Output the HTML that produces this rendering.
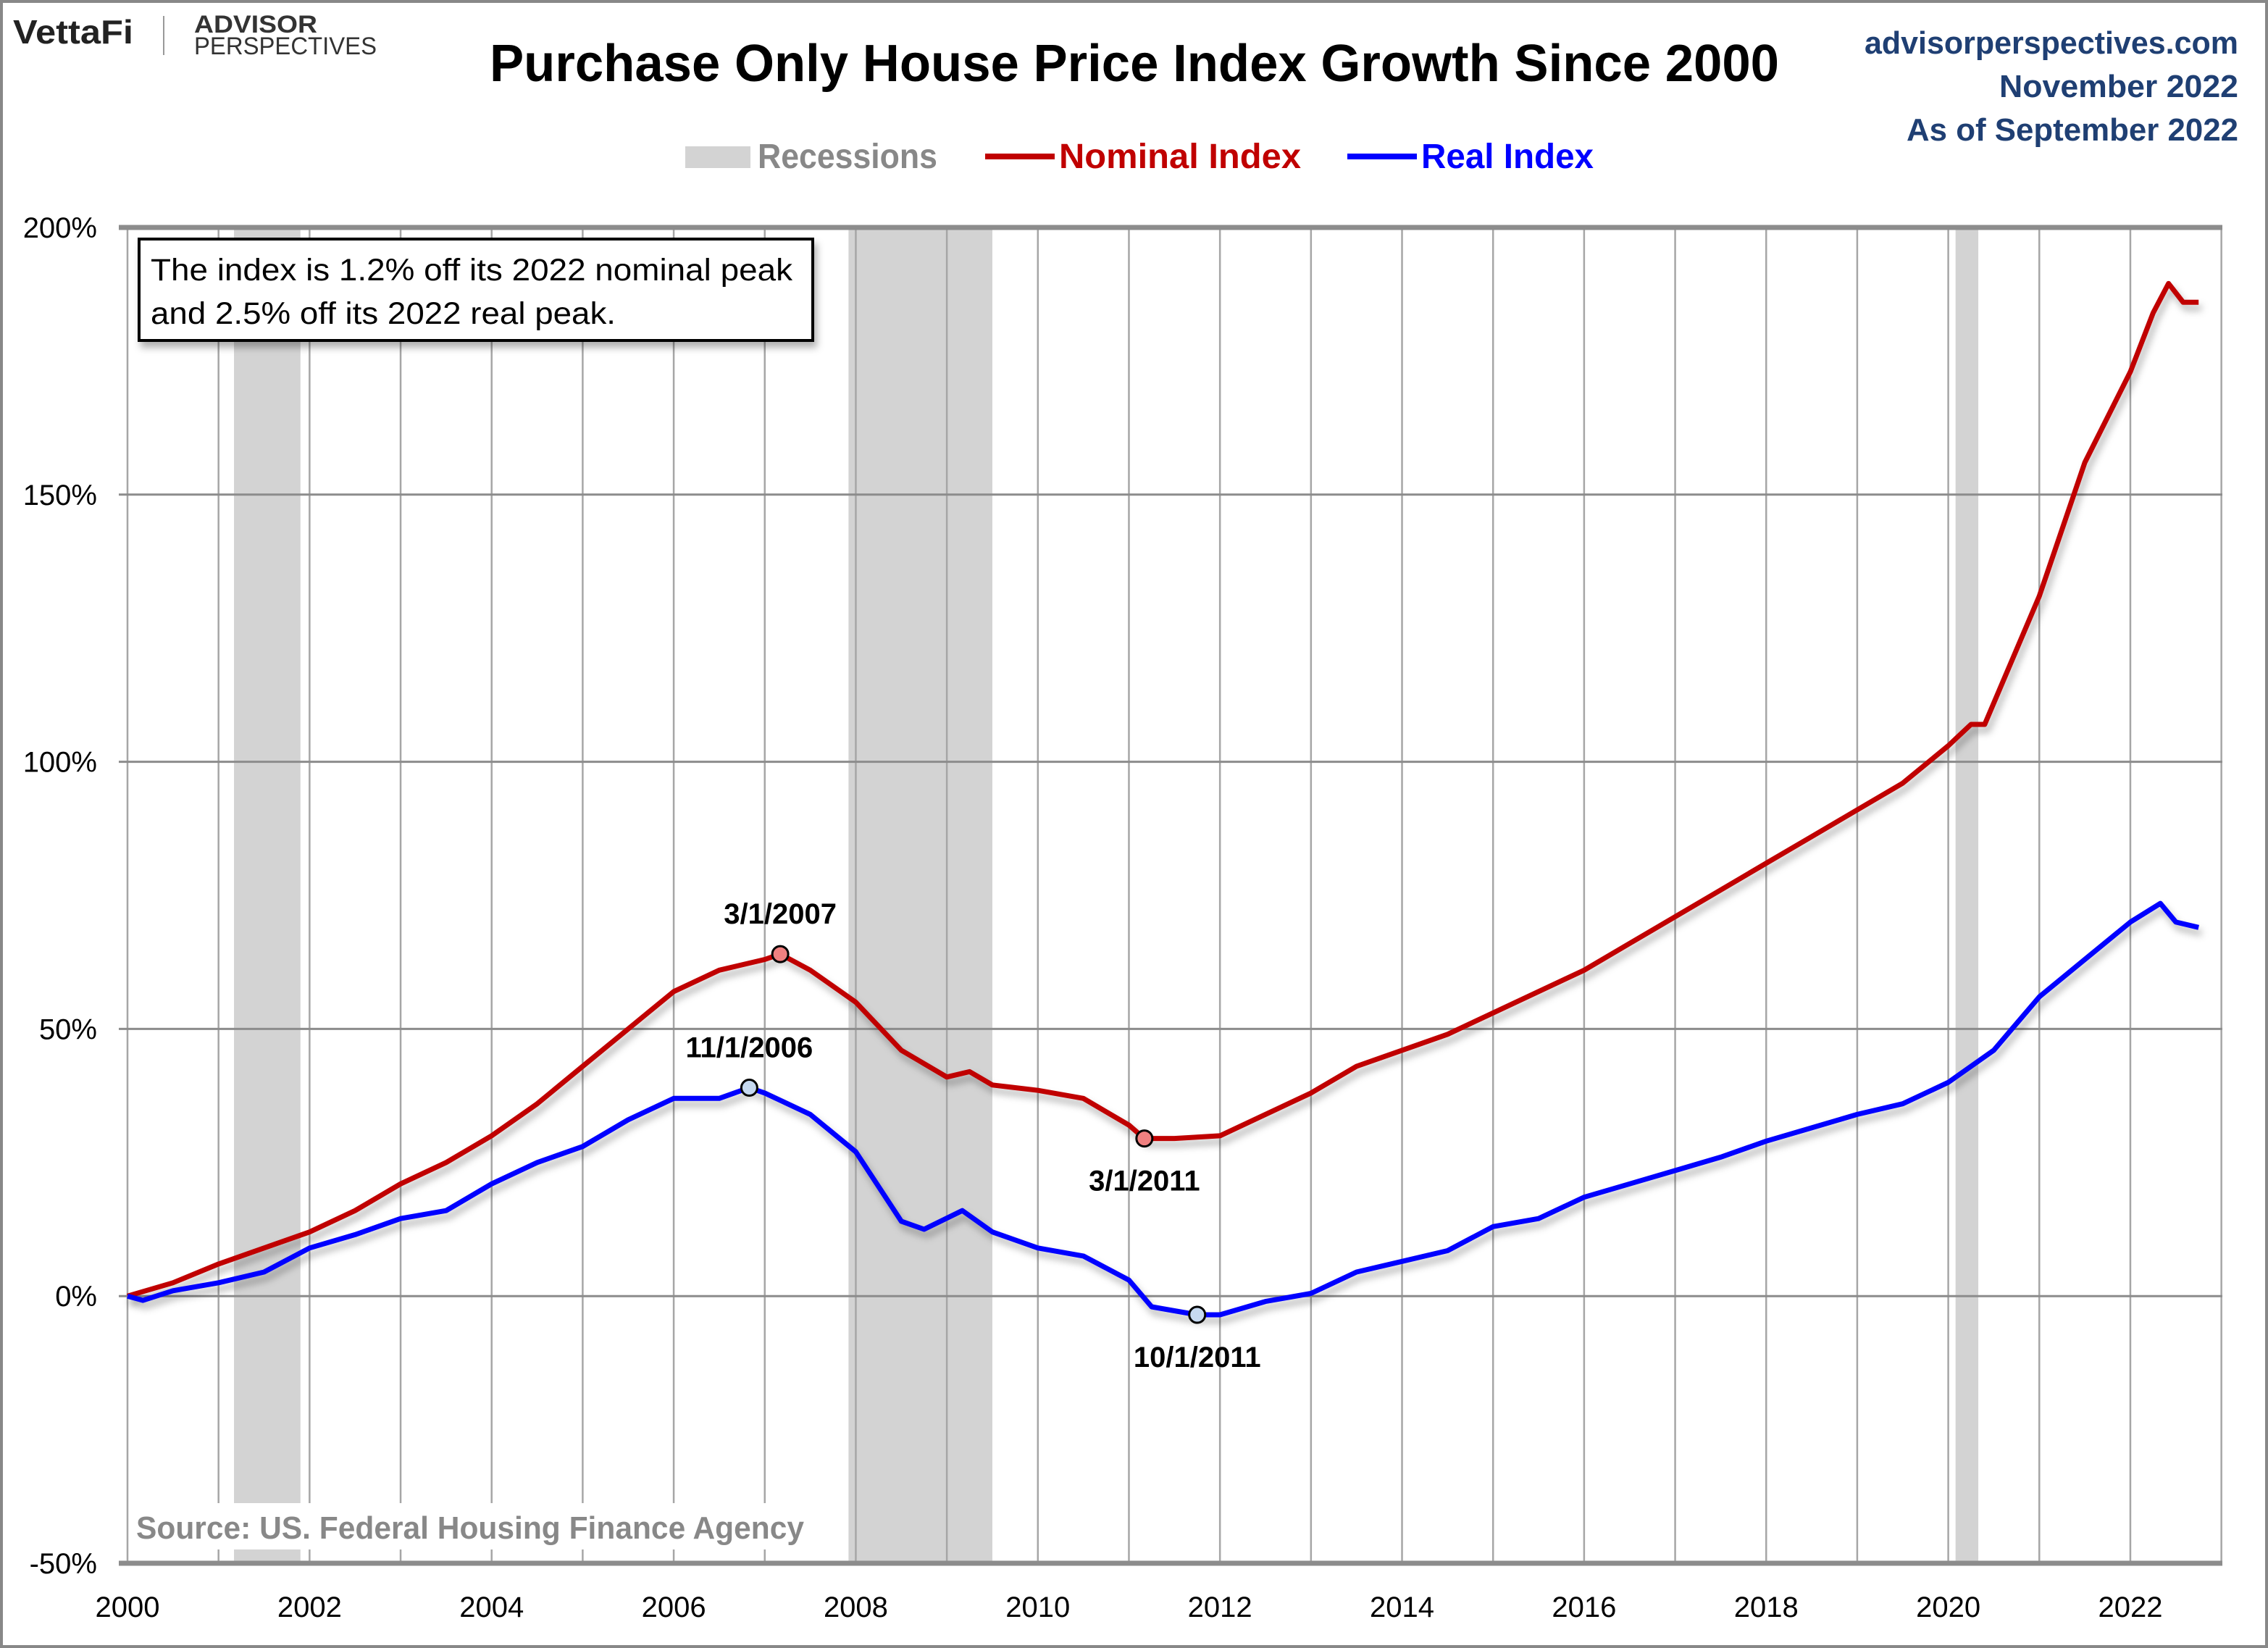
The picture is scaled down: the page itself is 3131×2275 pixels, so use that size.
<!DOCTYPE html>
<html><head><meta charset="utf-8"><style>
html,body{margin:0;padding:0;background:#fff}
svg{display:block;font-family:"Liberation Sans",sans-serif}
</style></head><body>
<svg id="chart" width="3131" height="2275" viewBox="0 0 3131 2275" xmlns="http://www.w3.org/2000/svg">
<defs><filter id="sh" x="-5%" y="-5%" width="110%" height="120%"><feDropShadow dx="4" dy="8" stdDeviation="5" flood-color="#000" flood-opacity="0.3"/></filter></defs>
<rect x="2" y="2" width="3127" height="2271" fill="#fff" stroke="#888" stroke-width="4"/>
<g>
<text x="18" y="60" font-size="46" font-weight="bold" fill="#222" textLength="166" lengthAdjust="spacingAndGlyphs">VettaFi</text>
<line x1="226" y1="22" x2="226" y2="76" stroke="#999" stroke-width="2"/>
<text x="268" y="45" font-size="34" font-weight="bold" fill="#333" textLength="170" lengthAdjust="spacingAndGlyphs">ADVISOR</text>
<text x="268" y="75" font-size="34" fill="#333" textLength="252" lengthAdjust="spacingAndGlyphs">PERSPECTIVES</text>
</g>
<text x="1566" y="112" text-anchor="middle" font-size="72" font-weight="bold" fill="#000" textLength="1780" lengthAdjust="spacingAndGlyphs">Purchase Only House Price Index Growth Since 2000</text>
<g font-size="44" font-weight="bold" fill="#1f3f73" text-anchor="end">
<text x="3090" y="74" textLength="516" lengthAdjust="spacingAndGlyphs">advisorperspectives.com</text>
<text x="3090" y="134" textLength="330" lengthAdjust="spacingAndGlyphs">November 2022</text>
<text x="3090" y="194" textLength="458" lengthAdjust="spacingAndGlyphs">As of September 2022</text>
</g>
<g font-size="48" font-weight="bold">
<rect x="946" y="202" width="90" height="30" fill="#d3d3d3"/>
<text x="1046" y="232" fill="#888" textLength="248" lengthAdjust="spacingAndGlyphs">Recessions</text>
<line x1="1360" y1="216" x2="1456" y2="216" stroke="#c00000" stroke-width="8"/>
<text x="1462" y="232" fill="#c00000" textLength="334" lengthAdjust="spacingAndGlyphs">Nominal Index</text>
<line x1="1860" y1="216" x2="1956" y2="216" stroke="#0000ff" stroke-width="8"/>
<text x="1962" y="232" fill="#0000ff" textLength="238" lengthAdjust="spacingAndGlyphs">Real Index</text>
</g>
<g id="plot"></g>
</svg>
<script>
const recStart=[2001.17,2007.92,2020.08];
const recEnd=[2001.9,2009.5,2020.33];
const yTicks=[-50,0,50,100,150,200];
const xTicks=[2000,2002,2004,2006,2008,2010,2012,2014,2016,2018,2020,2022];
const nomX=[2000,2000.5,2001,2001.5,2002,2002.5,2003,2003.5,2004,2004.5,2005,2005.5,2006,2006.5,2007,2007.17,2007.5,2008,2008.5,2009,2009.25,2009.5,2010,2010.5,2011,2011.17,2011.5,2012,2012.5,2013,2013.5,2014,2014.5,2015,2015.5,2016,2016.5,2017,2017.5,2018,2018.5,2019,2019.5,2020,2020.25,2020.4,2020.6,2021,2021.5,2022,2022.25,2022.42,2022.58,2022.75];
const nomY=[0,2.5,6,9,12,16,21,25,30,36,43,50,57,61,63,64,61,55,46,41,42,39.5,38.5,37,32,29.5,29.5,30,34,38,43,46,49,53,57,61,66,71,76,81,86,91,96,103,107,107,115,131,156,173,184,189.5,186,186];
const realX=[2000,2000.17,2000.5,2001,2001.5,2002,2002.5,2003,2003.5,2004,2004.5,2005,2005.5,2006,2006.5,2006.83,2007,2007.5,2008,2008.5,2008.75,2009.17,2009.5,2010,2010.5,2011,2011.25,2011.75,2012,2012.5,2013,2013.5,2014,2014.5,2015,2015.5,2016,2016.5,2017,2017.5,2018,2018.5,2019,2019.5,2020,2020.5,2021,2021.5,2022,2022.33,2022.5,2022.75];
const realY=[0,-0.8,1,2.5,4.5,9,11.5,14.5,16,21,25,28,33,37,37,39,38,34,27,14,12.5,16,12,9,7.5,3,-2,-3.5,-3.5,-1,0.5,4.5,6.5,8.5,13,14.5,18.5,21,23.5,26,29,31.5,34,36,40,46,56,63,70,73.5,70,69];
const markX=[2007.17,2011.17,2006.83,2011.75];
const markY=[64,29.5,39,-3.5];
const markLabel=["3/1/2007","3/1/2011","11/1/2006","10/1/2011"];

const L=176,R=3068,T=314,B=2158,X0=2000,XPY=125.68;
const sx=v=>L+(v-X0)*XPY;
const sy=v=>T+(200-v)*(B-T)/250;
const NS="http://www.w3.org/2000/svg";
const g=document.getElementById('plot');
function el(t,a,p){const e=document.createElementNS(NS,t);for(const k in a)e.setAttribute(k,a[k]);(p||g).appendChild(e);return e;}
for(let i=0;i<recStart.length;i++){
 const r=el('rect',{x:sx(recStart[i]),y:T,width:sx(recEnd[i])-sx(recStart[i]),height:B-T,fill:'#d3d3d3'});
 
 
}
for(let y=2000;y<=2023;y++){
 const l=el('line',{x1:sx(y),x2:sx(y),y1:T,y2:B,stroke:'#a6a6a6','stroke-width':2.5});
 
 
}
yTicks.forEach(v=>{
 const l=el('line',{x1:L-12,x2:R,y1:sy(v),y2:sy(v),stroke:'#8c8c8c','stroke-width':(v==200||v==-50)?7:3});
 
 
 const t=el('text',{x:134,y:sy(v)+14,'text-anchor':'end','font-size':40,fill:'#000'});
 t.textContent=v+'%';
 
 
});
xTicks.forEach(v=>{
 const t=el('text',{x:sx(v),y:2232,'text-anchor':'middle','font-size':40,fill:'#000'});
 t.textContent=v;
 
 
});
const sb=el('rect',{x:180,y:2075,width:930,height:64,fill:'#fff'});


const src=el('text',{x:188,y:2124,'font-size':44,'font-weight':'bold',fill:'#888',textLength:922,lengthAdjust:'spacingAndGlyphs'});
src.textContent='Source: US. Federal Housing Finance Agency';


const ab=el('rect',{x:192,y:330,width:930,height:140,fill:'#fff',stroke:'#000','stroke-width':4,filter:'url(#sh)'});


const a1=el('text',{x:208,y:387,'font-size':43,fill:'#000',textLength:886,lengthAdjust:'spacingAndGlyphs'});
a1.textContent='The index is 1.2% off its 2022 nominal peak';


const a2=el('text',{x:208,y:447,'font-size':43,fill:'#000',textLength:642,lengthAdjust:'spacingAndGlyphs'});
a2.textContent='and 2.5% off its 2022 real peak.';


function line(xs,ys,c,name){
 const d=xs.map((x,i)=>(i?'L':'M')+sx(x).toFixed(1)+' '+sy(ys[i]).toFixed(1)).join(' ');
 const p=el('path',{d:d,fill:'none',stroke:c,'stroke-width':7,'stroke-linejoin':'round',filter:'url(#sh)'});
 
 
}
line(nomX,nomY,'#c00000','nominal-index-line');
line(realX,realY,'#0000ff','real-index-line');
const mfill=['#f08080','#f08080','#c6d9f0','#c6d9f0'];
const ldy=[-42,72,-42,72];
for(let i=0;i<markX.length;i++){
 const c=el('circle',{cx:sx(markX[i]),cy:sy(markY[i]),r:11,fill:mfill[i],stroke:'#000','stroke-width':3});
 
 
 const t=el('text',{x:sx(markX[i]),y:sy(markY[i])+ldy[i],'text-anchor':'middle','font-size':40,'font-weight':'bold',fill:'#000'});
 t.textContent=markLabel[i];
 
 
}
</script>
</body></html>
